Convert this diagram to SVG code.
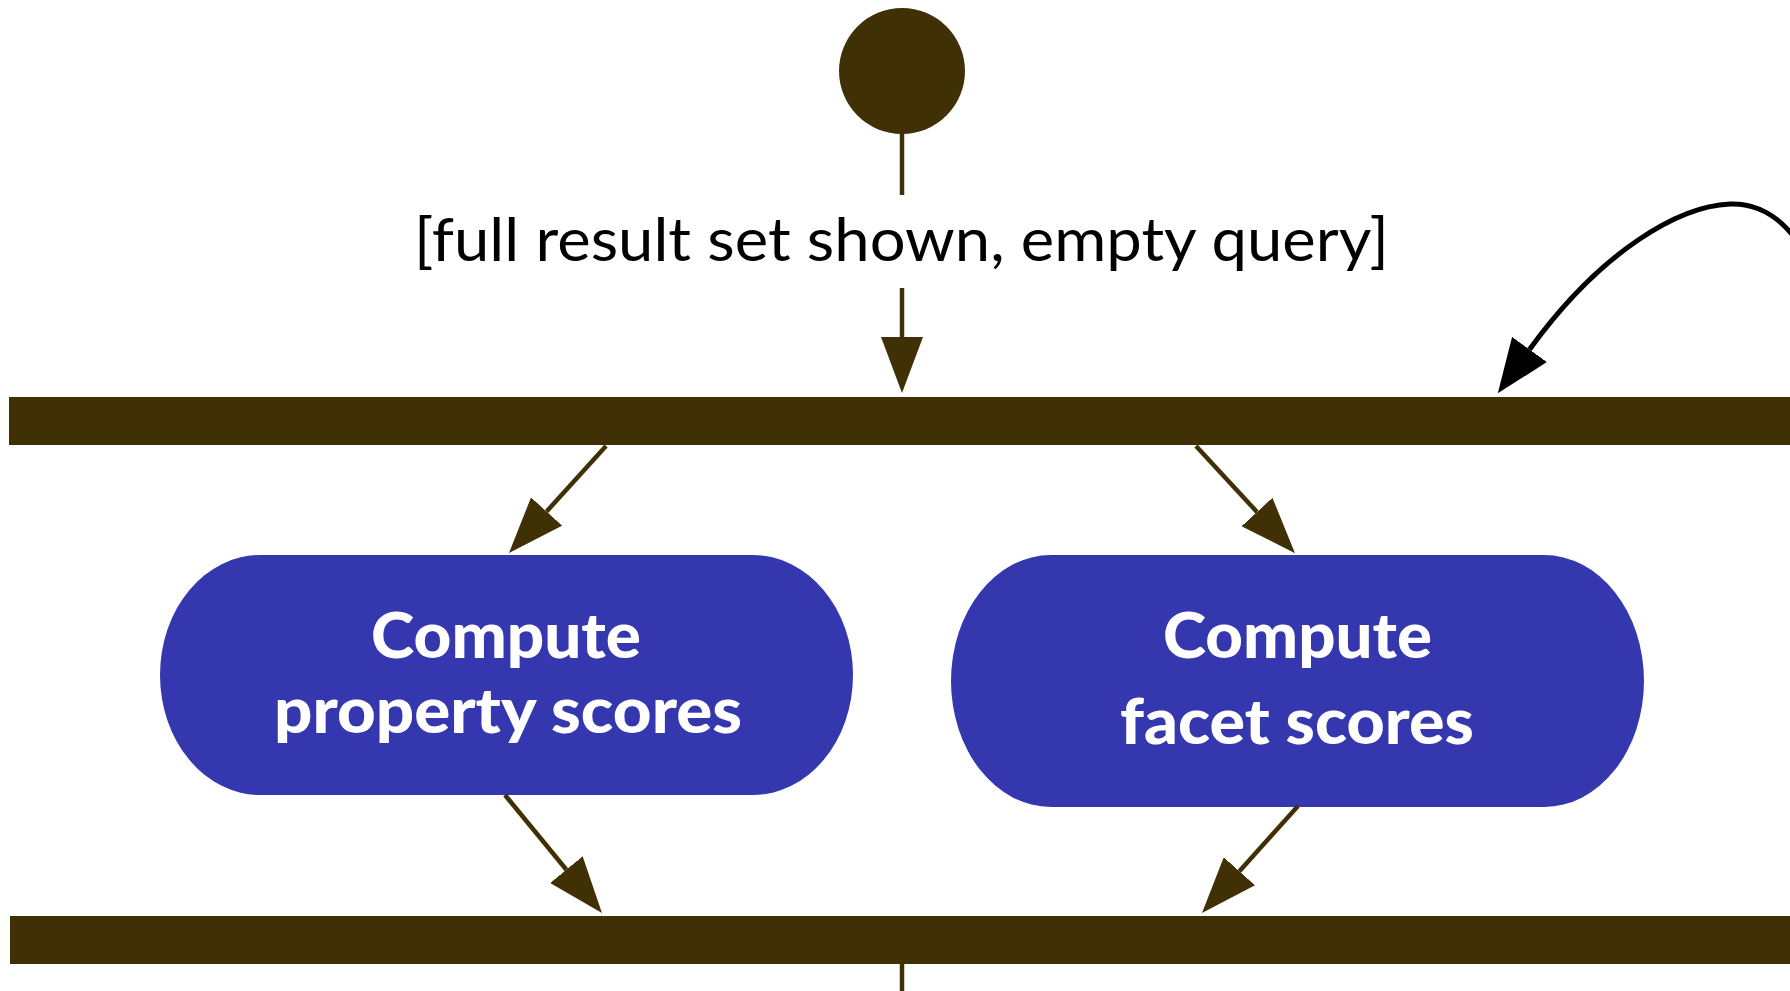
<svg xmlns="http://www.w3.org/2000/svg" width="1790" height="991" viewBox="0 0 1790 991">
  <style>
    .bar { fill: #3f3006; }
    .flow { fill: none; stroke: #3f3006; stroke-width: 4.5; }
    .loop { fill: none; stroke: #000000; stroke-width: 5; }
    .action { fill: #3437ad; }
    .action-text { font-family: Lato, "Open Sans", sans-serif; font-weight: 900; font-size: 62px; fill: #ffffff; text-anchor: middle; }
    .guard { font-family: Lato, "Open Sans", sans-serif; font-size: 60px; fill: #000000; text-anchor: middle; }
  </style>
  <defs>
    <marker id="head-brown" markerUnits="userSpaceOnUse" markerWidth="56" markerHeight="42" viewBox="0 0 56 42" refX="0" refY="21" orient="auto">
      <path d="M0,0 L56,21 L0,42 Z" fill="#3f3006"/>
    </marker>
    <marker id="head-black" markerUnits="userSpaceOnUse" markerWidth="54" markerHeight="43" viewBox="0 0 54 43" refX="0" refY="21.5" orient="auto">
      <path d="M0,0 L54,21.5 L0,43 Z" fill="#000000"/>
    </marker>
  </defs>

  <rect width="1790" height="991" fill="#ffffff"/>

  <!-- initial node -->
  <g id="start">
    <circle cx="902" cy="71" r="63" fill="#3f3006"/>
  </g>

  <!-- fork bar -->
  <g id="fork">
    <rect class="bar" x="9" y="397" width="1800" height="48"/>
  </g>

  <!-- join bar -->
  <g id="join">
    <rect class="bar" x="10" y="916" width="1800" height="48"/>
  </g>

  <!-- actions -->
  <g id="property-scores">
    <rect class="action" x="160" y="555" width="693" height="240" rx="100" ry="120"/>
    <text class="action-text" x="506" y="658" textLength="270" lengthAdjust="spacingAndGlyphs">Compute</text>
    <text class="action-text" x="508" y="733" textLength="468" lengthAdjust="spacingAndGlyphs">property scores</text>
  </g>

  <g id="facet-scores">
    <rect class="action" x="951" y="555" width="693" height="252" rx="100" ry="126"/>
    <text class="action-text" x="1297.5" y="658" textLength="269" lengthAdjust="spacingAndGlyphs">Compute</text>
    <text class="action-text" x="1297" y="744" textLength="354" lengthAdjust="spacingAndGlyphs">facet scores</text>
  </g>

  <!-- guard label -->
  <g id="guard-label">
    <text class="guard" x="901.5" y="261" textLength="975" lengthAdjust="spacingAndGlyphs">[full result set shown, empty query]</text>
  </g>

  <!-- connectors -->
  <g id="connectors">
    <line class="flow" x1="902" y1="133" x2="902" y2="195"/>
    <line class="flow" x1="902" y1="288" x2="902" y2="337" marker-end="url(#head-brown)"/>
    <line class="flow" x1="606" y1="446" x2="546.6" y2="511.5" marker-end="url(#head-brown)"/>
    <line class="flow" x1="1196" y1="446" x2="1257" y2="512" marker-end="url(#head-brown)"/>
    <line class="flow" x1="505" y1="795" x2="566.4" y2="869.7" marker-end="url(#head-brown)"/>
    <line class="flow" x1="1298" y1="806" x2="1239.4" y2="871.3" marker-end="url(#head-brown)"/>
    <line class="flow" x1="902" y1="964" x2="902" y2="995"/>
    <path class="loop" d="M1800 245 C1780 215 1755 203 1730 204 C1680 206 1602 249.5 1529.5 349.5" marker-end="url(#head-black)"/>
  </g>
</svg>
